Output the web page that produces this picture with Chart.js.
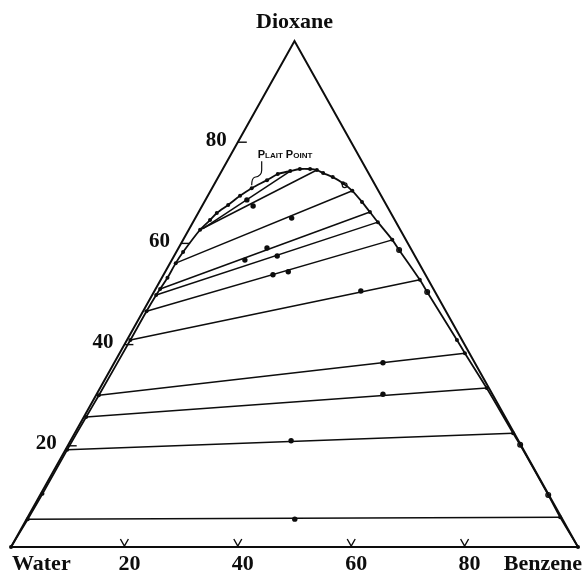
<!DOCTYPE html>
<html>
<head>
<meta charset="utf-8">
<title>Water - Dioxane - Benzene</title>
<script src="https://cdn.jsdelivr.net/npm/chart.js@4.4.1/dist/chart.umd.min.js"></script>
<style>
  html, body { margin: 0; padding: 0; background: #fff; }
  #chart { display: block; }
</style>
</head>
<body>
<canvas id="chart" width="585" height="578"></canvas>
<script>
/* global Chart */
(function () {
  "use strict";

  // compositions are [benzene %, dioxane %], water is the rest
  const corners = ["Water", "Benzene", "Dioxane"];

  const binodal = [
    [0, 0], [0.2, 5.5], [0.3, 10.5], [0.3, 19.2], [0.4, 25.7], [0.5, 30.0],
    [0.6, 40.9], [0.6, 46.6], [0.7, 49.8], [0.8, 51.0], [1.0, 53.2], [1.0, 56.1],
    [1.2, 58.3], [2.0, 62.7], [2.8, 64.6], [3.3, 66.0], [4.5, 67.6], [5.7, 69.4],
    [7.0, 70.9], [8.9, 72.5], [10.2, 73.7], [12.1, 74.3], [13.6, 74.7], [15.4, 74.7],
    [16.7, 74.5], [18.1, 73.9], [20.2, 73.1], [22.6, 71.9], [25.0, 70.4], [27.8, 68.2],
    [30.2, 66.2], [32.6, 64.2], [36.9, 60.7], [39.1, 58.7], [45.7, 52.8], [48.2, 50.4],
    [58.2, 40.9], [60.9, 38.3], [68.2, 31.4], [77.3, 22.5], [79.7, 20.2], [89.6, 10.3],
    [93.9, 5.9], [100, 0],
  ];

  // tie line ends: water-rich layer / benzene-rich layer
  const tieLeft = [
    [0.2, 5.5], [0.3, 19.2], [0.4, 25.7], [0.5, 30.0], [0.6, 40.9], [0.6, 46.6],
    [0.7, 49.8], [0.8, 51.0], [1.0, 56.1], [2.0, 62.7], [2.4, 62.9],
  ];
  const tieRight = [
    [93.9, 5.9], [77.3, 22.5], [68.2, 31.4], [60.9, 38.3], [45.7, 52.8], [36.9, 60.7],
    [32.6, 64.2], [30.2, 66.2], [25.0, 70.4], [16.7, 74.5], [12.1, 74.3],
  ];

  // overall mixture compositions on the tie lines
  const mixtures = [
    [47.3, 5.5], [38.9, 21.0], [50.5, 30.2], [47.4, 36.4], [36.4, 50.6], [21.7, 54.4],
    [19.3, 53.8], [18.2, 57.5], [15.6, 59.1], [12.9, 56.7], [17.0, 65.0], [9.0, 67.4],
    [7.3, 68.6],
  ];

  // solubility points drawn as open circles
  const openPoints = [[23.1, 71.5], [39.1, 58.7], [48.2, 50.4], [79.7, 20.2], [89.6, 10.3]];

  const plaitPoint = [7.0, 70.9];
  const plaitLabel = "Plait Point";

  const sideTicks = [20, 40, 60, 80]; // dioxane % on the water-dioxane side
  const baseTicks = [20, 40, 60, 80]; // benzene % on the water-benzene side

  const INK = "#0d0d0d";
  const SERIF = "'Liberation Serif', 'DejaVu Serif', serif";

  function tern(p) {
    return { x: p[0] + p[1] / 2, y: p[1] };
  }

  const datasets = [
    {
      label: "triangle",
      data: [[0, 0], [100, 0], [0, 100], [0, 0]].map(tern),
      showLine: true,
      borderColor: INK,
      borderWidth: 2,
      pointRadius: 0,
      clip: false,
    },
    {
      label: "binodal",
      data: binodal.map(tern),
      showLine: true,
      tension: 0.3,
      borderColor: INK,
      borderWidth: 1.8,
      pointRadius: 2,
      pointBackgroundColor: INK,
      pointBorderWidth: 0,
      clip: false,
    },
  ];

  tieLeft.forEach((l, i) => {
    datasets.push({
      label: `tie ${i + 1}`,
      data: [tern(l), tern(tieRight[i])],
      showLine: true,
      borderColor: INK,
      borderWidth: 1.5,
      pointRadius: 0,
      clip: false,
    });
  });

  datasets.push(
    {
      label: "mixtures",
      data: mixtures.map(tern),
      pointRadius: 2.7,
      pointBackgroundColor: INK,
      pointBorderWidth: 0,
      clip: false,
    },
    {
      label: "open",
      data: openPoints.map(tern),
      pointRadius: 2.4,
      pointBackgroundColor: "#fff",
      pointBorderColor: INK,
      pointBorderWidth: 1.2,
      clip: false,
    }
  );

  const ternaryText = {
    id: "ternaryText",
    afterDatasetsDraw(chart) {
      const { ctx } = chart;
      const sx = chart.scales.x;
      const sy = chart.scales.y;
      const px = (b, d) => [sx.getPixelForValue(b + d / 2), sy.getPixelForValue(d)];

      ctx.save();
      ctx.strokeStyle = INK;
      ctx.fillStyle = INK;
      ctx.lineWidth = 1.4;

      // dioxane ticks on the left side
      ctx.font = `bold 21px ${SERIF}`;
      ctx.textAlign = "right";
      ctx.textBaseline = "middle";
      sideTicks.forEach((v) => {
        const [tx, ty] = px(0, v);
        ctx.beginPath();
        ctx.moveTo(tx, ty);
        ctx.lineTo(tx + 9, ty);
        ctx.stroke();
        ctx.fillText(String(v), tx - 11, ty - 2);
      });

      // benzene ticks on the base
      baseTicks.forEach((v) => {
        const [tx, ty] = px(v, 0);
        ctx.beginPath();
        ctx.moveTo(tx - 4, ty - 8);
        ctx.lineTo(tx, ty - 1);
        ctx.lineTo(tx + 4, ty - 8);
        ctx.stroke();
      });

      ctx.font = `bold 22px ${SERIF}`;
      ctx.textBaseline = "alphabetic";
      ctx.textAlign = "center";
      baseTicks.forEach((v) => {
        const [tx, ty] = px(v, 0);
        ctx.fillText(String(v), tx + 5, ty + 23);
      });

      const [wx, wy] = px(0, 0);
      ctx.textAlign = "left";
      ctx.fillText(corners[0], wx + 1, wy + 23);
      const [bx, by] = px(100, 0);
      ctx.textAlign = "right";
      ctx.fillText(corners[1], bx + 4, by + 23);
      const [dx, dy] = px(0, 100);
      ctx.textAlign = "center";
      ctx.fillText(corners[2], dx, dy - 13);

      // plait point label with its wavy leader
      const [ppx, ppy] = px(plaitPoint[0], plaitPoint[1]);
      ctx.lineWidth = 1.2;
      ctx.beginPath();
      ctx.moveTo(ppx + 10, ppy - 27);
      ctx.lineTo(ppx + 10, ppy - 18);
      ctx.quadraticCurveTo(ppx + 10, ppy - 12, ppx + 3, ppy - 11);
      ctx.quadraticCurveTo(ppx, ppy - 10, ppx, ppy - 3);
      ctx.stroke();
      ctx.font = `small-caps bold 11px 'Liberation Sans', sans-serif`;
      ctx.textAlign = "left";
      ctx.fillText(plaitLabel, ppx + 6, ppy - 30);

      ctx.restore();
    },
  };

  new Chart(document.getElementById("chart").getContext("2d"), {
    type: "scatter",
    data: { datasets },
    options: {
      responsive: false,
      animation: false,
      events: [],
      layout: { padding: { left: 11, right: 7, top: 41, bottom: 31 } },
      scales: {
        x: { type: "linear", min: 0, max: 100, display: false },
        y: { type: "linear", min: 0, max: 100, display: false },
      },
      plugins: {
        legend: { display: false },
        tooltip: { enabled: false },
      },
    },
    plugins: [ternaryText],
  });
})();
</script>
</body>
</html>
